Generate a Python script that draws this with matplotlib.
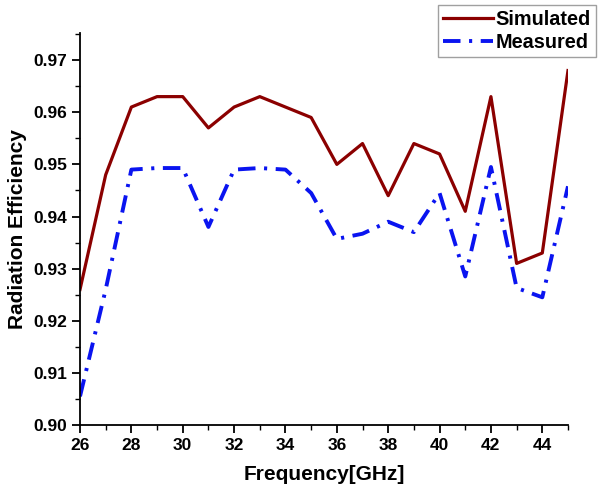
import matplotlib
matplotlib.use("Agg")
import matplotlib.pyplot as plt
from matplotlib.ticker import MultipleLocator, FormatStrFormatter

plt.rcParams.update({
    "font.family": ["Liberation Sans", "DejaVu Sans"],
    "font.weight": "bold",
})

freq = list(range(26, 46))
simulated = [0.926, 0.948, 0.961, 0.963, 0.963, 0.957, 0.961, 0.963, 0.961, 0.959,
             0.950, 0.954, 0.944, 0.954, 0.952, 0.941, 0.963, 0.931, 0.933, 0.968]
measured = [0.9055, 0.926, 0.949, 0.9493, 0.9493, 0.938, 0.949, 0.9493, 0.949, 0.9445,
            0.9357, 0.9367, 0.939, 0.937, 0.9445, 0.9285, 0.9495, 0.9263, 0.9245, 0.9458]

fig = plt.figure(figsize=(6.02, 4.93), dpi=100)
ax = fig.add_axes([0.1329, 0.1379, 0.8106, 0.7951])

ax.plot(freq, simulated, color="#8b0000", lw=2.3, label="Simulated")
ax.plot(freq, measured, color="#0a14f0", lw=2.8, linestyle=(0, (4.5, 2.2, 0.8, 2.2)),
        label="Measured")

ax.set_xlim(26, 45)
ax.set_ylim(0.90, 0.9752)
ax.xaxis.set_major_locator(MultipleLocator(2))
ax.xaxis.set_minor_locator(MultipleLocator(1))
ax.yaxis.set_major_locator(MultipleLocator(0.01))
ax.yaxis.set_minor_locator(MultipleLocator(0.005))
ax.yaxis.set_major_formatter(FormatStrFormatter("%.2f"))

for s in ("top", "right"):
    ax.spines[s].set_visible(False)
for s in ("left", "bottom"):
    ax.spines[s].set_linewidth(1.3)
ax.tick_params(which="major", direction="out", length=5.5, width=1.3, labelsize=12.5)
ax.tick_params(which="minor", direction="out", length=3.5, width=1.0)

ax.set_xlabel("Frequency[GHz]", fontsize=15, fontweight="bold", labelpad=9)
ax.set_ylabel("Radiation Efficiency", fontsize=15, fontweight="bold", labelpad=5)

leg = ax.legend(loc="upper right", bbox_to_anchor=(0.990, 0.990),
                bbox_transform=fig.transFigure, fontsize=14.3, frameon=True,
                fancybox=False, edgecolor="#888888", handlelength=2.5,
                handletextpad=0.15, borderpad=0.25, labelspacing=0.2,
                borderaxespad=0)
leg.get_frame().set_linewidth(1.0)

fig.savefig("out.png", dpi=100)
